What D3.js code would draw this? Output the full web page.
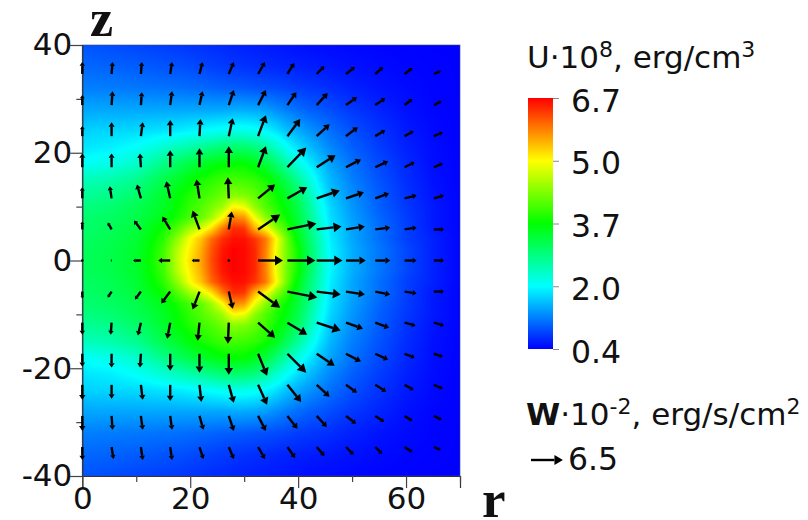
<!DOCTYPE html>
<html><head><meta charset="utf-8">
<script src="https://cdn.jsdelivr.net/npm/d3@7/dist/d3.min.js"></script>
<style>html,body{margin:0;padding:0;background:#fff;overflow:hidden}svg{display:block}text{font-family:"DejaVu Sans";fill:#111}</style>
</head><body><svg id="c" width="808" height="520"></svg>
<script>
// U field (10^8 erg/cm3), upper half; field is mirrored for z<0
const rStops=[0,5,10,15,18,20,22,24,26,28,30,32,34,36,38,40,42,44,46,50,55,60,65,70];
const zStops=[0,2,4,6,8,10,12,15,18,21,24,28,32,36,40];
const u00=[3.1,3.2,3.4,4.05,4.75,5.2,5.6,6.2,6.6,6.7,6.65,6.45,5.8,4.9,4.25,3.75,3.1,2.5,1.95,1.5,1.15,.85,.6,.42];
const u02=[3.1,3.2,3.4,4.0,4.7,5.1,5.55,6.15,6.55,6.7,6.65,6.45,5.85,4.9,4.25,3.75,3.1,2.5,1.95,1.5,1.15,.85,.6,.42];
const u04=[3.05,3.15,3.35,3.9,4.5,5.0,5.4,6.0,6.4,6.6,6.6,6.35,5.9,5.0,4.2,3.6,3.0,2.45,1.9,1.45,1.1,.8,.6,.42];
const u06=[3.0,3.1,3.3,3.75,4.15,4.5,4.75,5.2,5.9,6.4,6.35,5.5,5.0,4.4,3.95,3.4,2.9,2.35,1.85,1.45,1.1,.8,.55,.42];
const u08=[2.95,3.05,3.2,3.55,3.85,4.05,4.2,4.5,5.0,5.8,5.7,4.9,4.4,4.0,3.7,3.3,2.8,2.25,1.8,1.4,1.05,.78,.55,.42];
const u10=[2.85,2.95,3.15,3.45,3.75,3.95,4.1,4.3,4.5,5.0,4.9,4.4,4.1,3.85,3.6,3.2,2.7,2.15,1.75,1.35,1.0,.75,.55,.42];
const u12=[2.7,2.8,3.0,3.4,3.7,3.85,4.0,4.1,4.25,4.4,4.35,4.2,4.0,3.75,3.45,3.05,2.55,2.05,1.65,1.3,.98,.72,.52,.42];
const u15=[2.45,2.55,2.75,3.2,3.45,3.65,3.8,3.9,4.0,4.05,4.0,3.95,3.8,3.5,3.1,2.7,2.25,1.85,1.55,1.2,.92,.68,.5,.41];
const u18=[2.05,2.15,2.35,2.8,3.1,3.25,3.4,3.55,3.65,3.7,3.7,3.55,3.3,2.95,2.55,2.2,1.9,1.65,1.42,1.12,.86,.65,.48,.41];
const u21=[1.85,1.9,2.05,2.3,2.5,2.6,2.7,2.85,2.95,3.0,3.0,2.9,2.65,2.35,2.05,1.8,1.6,1.42,1.25,1.0,.78,.6,.47,.4];
const u24=[1.72,1.75,1.78,1.85,1.9,1.95,2.0,2.05,2.1,2.15,2.15,2.1,1.98,1.82,1.62,1.48,1.35,1.22,1.1,.9,.72,.56,.45,.4];
const u28=[1.45,1.45,1.45,1.45,1.45,1.45,1.45,1.45,1.45,1.47,1.47,1.45,1.38,1.28,1.18,1.08,1.0,.95,.88,.75,.62,.5,.43,.4];
const u32=[1.2,1.18,1.15,1.12,1.1,1.08,1.06,1.03,1.0,.98,.96,.93,.9,.87,.83,.78,.75,.72,.68,.6,.52,.46,.42,.4];
const u36=[1.05,1.02,.98,.93,.9,.87,.84,.8,.77,.74,.71,.69,.67,.64,.62,.6,.58,.56,.54,.5,.46,.43,.41,.4];
const u40=[.92,.88,.83,.78,.75,.72,.7,.67,.65,.62,.6,.58,.56,.54,.52,.5,.48,.47,.46,.44,.42,.41,.4,.4];
const uRows=[u00,u02,u04,u06,u08,u10,u12,u15,u18,u21,u24,u28,u32,u36,u40];

// W vector field (10^-2 erg/s/cm2) on the arrow grid
const rGrid=[0,5.43,10.86,16.29,21.72,27.15,32.58,38.01,43.44,48.87,54.3,59.73,65.16];
const zGrid=[34.62,28.85,23.08,17.31,11.54,5.77,0,-5.77,-11.54,-17.31,-23.08,-28.85,-34.62];
const wrRows=[
[0,.2,.2,.4,.65,1.1,1.5,1.5,1.7,1.95,1.7,1.7,1.5],
[0,.2,.2,.4,.65,1.1,1.7,1.95,2.4,2.4,2.2,1.7,1.7],
[0,0,.4,0,.2,.85,1.7,2.8,2.8,2.6,2.2,1.95,1.95],
[0,0,-.2,0,0,0,1.7,4.1,4.1,3.25,2.8,2.2,1.95],
[0,-.4,-.85,-.85,-.65,-.2,3.7,4.3,5,3.9,3,2.6,2.2],
[0,-.85,-1.5,-1.7,-1.5,.65,4.8,6.3,5.4,4.1,3.25,2.6,2.2],
[0,-.2,-1.7,-2.6,-1.7,0,5.4,6.1,5.6,4.3,3.25,2.6,2.2],
[0,-.85,-1.3,-1.95,-1.5,.85,4.8,6.5,5.2,4.1,3.25,2.6,2.2],
[0,-.2,-.65,-.65,-.4,-.2,3.7,4.3,5.2,3.7,3,2.4,2.2],
[0,0,-.2,0,0,0,1.95,4.1,3.9,3.25,2.8,2.2,1.95],
[0,0,.4,0,.4,1.1,1.95,3,2.8,2.4,2.4,1.95,1.95],
[0,.2,.4,.4,.85,1.1,1.7,2.2,2.2,2.2,1.95,1.7,1.7],
[0,.4,.4,.4,.85,1.1,1.5,1.7,1.7,1.7,1.5,1.7,1.5]];
const wzRows=[
[2.6,2.6,2.6,2.6,2.6,2.6,2.6,2.4,1.7,1.5,1.5,1.3,.65],
[2.2,3,2.8,3,3,3.25,3.25,2.8,2.6,1.7,1.5,1.3,.85],
[2.2,3,3,3.5,3.7,3.9,4.55,3.7,2.6,1.95,1.3,1.1,.85],
[3,3,3,3.7,4.1,4.55,4.55,4.3,2.6,1.7,1.3,1.1,.85],
[2.4,2.6,3,3.7,4.1,4.55,3,2.4,1.7,1.3,1.1,.65,.65],
[1.7,1.5,1.95,2.8,4.1,3.9,3.25,1.3,.65,.65,.4,.4,0],
[0,0,0,0,0,0,0,0,0,0,0,0,0],
[-1.5,-1.3,-1.7,-2.6,-3.9,-3.7,-3.5,-1.3,-.65,-.65,-.65,-.4,0],
[-2.6,-2.6,-2.8,-3.5,-3.9,-4.55,-3.25,-2.6,-1.7,-1.3,-1.1,-.65,-.65],
[-2.8,-3,-3,-3.7,-4.1,-4.55,-4.8,-4.1,-2.6,-1.7,-1.3,-.85,-.65],
[-3.25,-3,-3.25,-3.5,-3.7,-3.9,-4.3,-3.7,-2.6,-1.7,-1.5,-1.1,-.85],
[-3.25,-3,-3,-3,-3,-3.25,-3.25,-2.8,-2.4,-1.7,-1.3,-1.1,-.85],
[-2.8,-2.6,-2.8,-2.8,-2.6,-2.6,-2.6,-2.4,-1.95,-1.7,-1.5,-1.1,-.65]];

const xMajor=[0,20,40,60], xMinor=[10,30,50,70];
const yMajor=[-40,-20,0,20,40], yMinor=[-30,-10,10,30];
const cbLevels=[0.4,2.0,3.7,5.0,6.7];
const cbLabels=["0.4","2.0","3.7","5.0","6.7"];
const cbColors=["#0000ff","#00ffff","#00ff00","#ffff00","#ff0000"];
const wRef=6.5;

const svg=d3.select("#c");
const x=d3.scaleLinear([0,70],[82.3,460]);
const y=d3.scaleLinear([-40,40],[476,45]);
const color=d3.scaleLinear(cbLevels,cbColors).clamp(true);
const iR=d3.scaleLinear(rStops,d3.range(rStops.length)).clamp(true);
const iZ=d3.scaleLinear(zStops,d3.range(zStops.length)).clamp(true);
function field(r,z){
  const fr=iR(r), fz=iZ(Math.abs(z));
  const i=Math.min(Math.floor(fr),rStops.length-2), j=Math.min(Math.floor(fz),zStops.length-2);
  const a=fr-i,b=fz-j;
  return (1-b)*((1-a)*uRows[j][i]+a*uRows[j][i+1])+b*((1-a)*uRows[j+1][i]+a*uRows[j+1][i+1]);
}
// heat map raster
const px0=Math.round(x(0)), px1=Math.round(x(70)), py0=Math.round(y(40)), py1=Math.round(y(-40));
const cv=document.createElement("canvas");cv.width=px1-px0;cv.height=py1-py0;
const ctx=cv.getContext("2d");const im=ctx.createImageData(cv.width,cv.height);
for(let j=0;j<cv.height;j++)for(let i=0;i<cv.width;i++){
  const c=d3.rgb(color(field(x.invert(px0+i+.5),y.invert(py0+j+.5))));
  const k=4*(j*cv.width+i);im.data[k]=c.r;im.data[k+1]=c.g;im.data[k+2]=c.b;im.data[k+3]=255;
}
ctx.putImageData(im,0,0);
svg.append("image").attr("x",px0).attr("y",py0).attr("width",cv.width).attr("height",cv.height).attr("href",cv.toDataURL());
svg.append("rect").attr("x",x(0)).attr("y",y(40)).attr("width",x(70)-x(0)).attr("height",y(-40)-y(40))
  .attr("fill","none").attr("stroke","#3a4a8a").attr("stroke-width",1).attr("stroke-opacity",.6);

// axes
const axL=d3.axisLeft(y).tickValues(yMajor).tickSize(12).tickPadding(-2).tickFormat(d=>String(d));
const axB=d3.axisBottom(x).tickValues(xMajor).tickSize(12).tickPadding(-1).tickFormat(d=>String(d));
const gL=svg.append("g").attr("transform",`translate(${x(0)},0)`).call(axL);
const gB=svg.append("g").attr("transform",`translate(0,${y(-40)})`).call(axB);
svg.append("g").attr("transform",`translate(${x(0)},0)`).call(d3.axisLeft(y).tickValues(yMinor).tickSize(6).tickFormat("")).select(".domain").remove();
svg.append("g").attr("transform",`translate(0,${y(-40)})`).call(d3.axisBottom(x).tickValues(xMinor).tickSize(6).tickFormat("")).select(".domain").remove();
svg.selectAll(".tick line").attr("stroke","#444").attr("stroke-width",1.2);
svg.selectAll(".domain").attr("stroke","#333").attr("stroke-width",1.2);
gL.selectAll("text").attr("font-size",31).attr("font-family","DejaVu Sans").attr("fill","#111");
gB.selectAll("text").attr("font-size",31).attr("font-family","DejaVu Sans").attr("fill","#111");

// arrows
const defs=svg.append("defs");
defs.append("filter").attr("id","soft").append("feGaussianBlur").attr("stdDeviation",.45);
const wPx=(x(70)-x(0))/70*5.55/wRef; // px per W unit along either axis
const line=d3.line();
function arrow(g,x0,y0,dx,dy){
  const L=Math.hypot(dx,dy); if(L<.2){g.append("circle").attr("cx",x0).attr("cy",y0).attr("r",1.3).attr("fill","#000");return;}
  const ux=dx/L,uy=dy/L,h=Math.min(.32*L,8.5),w=Math.min(.17*L,4.2)+.7;
  const bx=x0+dx-ux*h,by=y0+dy-uy*h;
  g.append("path").attr("d",line([[x0,y0],[bx,by]])).attr("stroke","#000").attr("stroke-width",2.4).attr("fill","none");
  g.append("path").attr("d",line([[x0+dx,y0+dy],[bx-uy*w,by+ux*w],[bx+uy*w,by-ux*w]])+"Z").attr("fill","#000");
}
const ga=svg.append("g").attr("filter","url(#soft)");
zGrid.forEach((z,j)=>rGrid.forEach((r,i)=>arrow(ga,x(r),y(z),wrRows[j][i]*wPx,-wzRows[j][i]*wPx)));

// colour bar
const cbY=d3.scalePoint(cbLevels,[349,98]);
const grad=defs.append("linearGradient").attr("id","cb").attr("x1",0).attr("x2",0).attr("y1",1).attr("y2",0);
cbColors.forEach((c,i)=>grad.append("stop").attr("offset",i/(cbColors.length-1)).attr("stop-color",c));
svg.append("rect").attr("x",528).attr("y",98).attr("width",25).attr("height",251).attr("fill","url(#cb)");
const gc=svg.append("g").attr("transform","translate(553,0)").call(d3.axisRight(cbY).tickSize(6).tickPadding(12).tickFormat((d,i)=>cbLabels[i]));
gc.select(".domain").remove();
gc.selectAll("line").attr("stroke","#888");
gc.selectAll("text").attr("font-size",31.5).attr("font-family","DejaVu Sans").attr("fill","#111").attr("dy","0.42em");

// titles
const t1=svg.append("text").attr("x",527).attr("y",68).attr("font-size",31);
t1.append("tspan").text("U·10");
t1.append("tspan").attr("dy",-11).attr("font-size",22).text("8");
t1.append("tspan").attr("dy",11).text(", erg/cm");
t1.append("tspan").attr("dy",-11).attr("font-size",22).text("3");
const t2=svg.append("text").attr("x",526).attr("y",425).attr("font-size",31);
t2.append("tspan").attr("font-weight","bold").text("W");
t2.append("tspan").text("·10");
t2.append("tspan").attr("dy",-11).attr("font-size",22).text("-2");
t2.append("tspan").attr("dy",11).text(", erg/s/cm");
t2.append("tspan").attr("dy",-11).attr("font-size",22).text("2");
const gl=svg.append("g").attr("filter","url(#soft)");
arrow(gl,531,460,wRef*wPx+2,0);
svg.append("text").attr("x",568).attr("y",470).attr("font-size",31.5).text("6.5");
svg.append("text").attr("x",90).attr("y",36).attr("font-size",52).attr("font-weight","bold").style("font-family","Liberation Serif").text("z");
svg.append("text").attr("x",482).attr("y",517).attr("font-size",53).attr("font-weight","bold").style("font-family","Liberation Serif").text("r");
</script></body></html>
